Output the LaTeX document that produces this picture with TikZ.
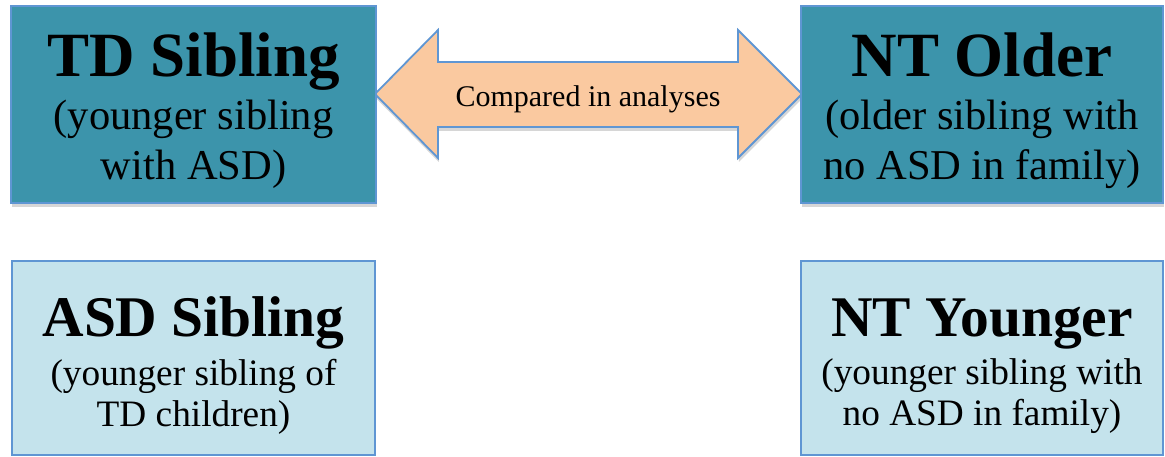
\documentclass[tikz,border=0pt]{standalone}
\usepackage{fontspec}
\setmainfont{Liberation Serif}
\usetikzlibrary{shadows}
\definecolor{tealfill}{HTML}{3C94AB}
\definecolor{lightfill}{HTML}{C4E3EC}
\definecolor{peachfill}{HTML}{FAC9A0}
\definecolor{edgeblue}{HTML}{5F96D3}
\begin{document}
\begin{tikzpicture}[x=1pt,y=-1pt,
  softshadow/.style={drop shadow={shadow xshift=0.8pt, shadow yshift=-4pt, fill=black, opacity=0.16}},
  topbox/.style={draw=edgeblue, line width=1.2pt, fill=tealfill, softshadow, inner sep=0pt},
  botbox/.style={draw=edgeblue, line width=1.8pt, fill=lightfill, inner sep=0pt},
  ttltop/.style={anchor=base, inner sep=0pt, font=\fontsize{63}{70}\selectfont\bfseries},
  subtop/.style={anchor=base, inner sep=0pt, font=\fontsize{42.5}{48}\selectfont},
  ttlbot/.style={anchor=base, inner sep=0pt, font=\fontsize{57.5}{64}\selectfont\bfseries},
  subbot/.style={anchor=base, inner sep=0pt, font=\fontsize{37.3}{42}\selectfont},
  bigarrow/.style={draw=edgeblue, line width=1.8pt, fill=peachfill, line join=miter, softshadow},
  arrowlabel/.style={anchor=base, inner sep=0pt, font=\fontsize{30}{36}\selectfont}
]
\useasboundingbox (0,0) rectangle (1165,457);

% double block arrow
\draw[bigarrow] (375,94) -- (438,30) -- (438,62) -- (738,62) -- (738,30) -- (802,94)
  -- (738,158) -- (738,127) -- (438,127) -- (438,158) -- cycle;
\node[arrowlabel] (cmp) at (588,107) {Compared in analyses};

% top boxes
\node[topbox, minimum width=365pt, minimum height=197pt] (td) at (193.5,104.5) {};
\node[topbox, minimum width=362pt, minimum height=197pt] (nto) at (982,104.5) {};
% bottom boxes
\node[botbox, minimum width=363pt, minimum height=194pt] (asd) at (193.5,358) {};
\node[botbox, minimum width=362pt, minimum height=194pt] (nty) at (982,358) {};

% texts
\node[ttltop] (tdA) at (193.5,77) {TD Sibling};
\node[subtop] (tdB) at (193.5,130) {(younger sibling};
\node[subtop] (tdC) at (193.5,180) {with ASD)};

\node[ttltop] (ntoA) at (982,77) {NT Older};
\node[subtop] (ntoB) at (982,130) {(older sibling with};
\node[subtop] (ntoC) at (982,180) {no ASD in family)};

\node[ttlbot] (asdA) at (193.5,336) {ASD Sibling};
\node[subbot] (asdB) at (193.5,385) {(younger sibling of};
\node[subbot] (asdC) at (193.5,426) {TD children)};

\node[ttlbot] (ntyA) at (982,336) {NT Younger};
\node[subbot] (ntyB) at (982,384) {(younger sibling with};
\node[subbot] (ntyC) at (982,425) {no ASD in family)};
\end{tikzpicture}
\end{document}
